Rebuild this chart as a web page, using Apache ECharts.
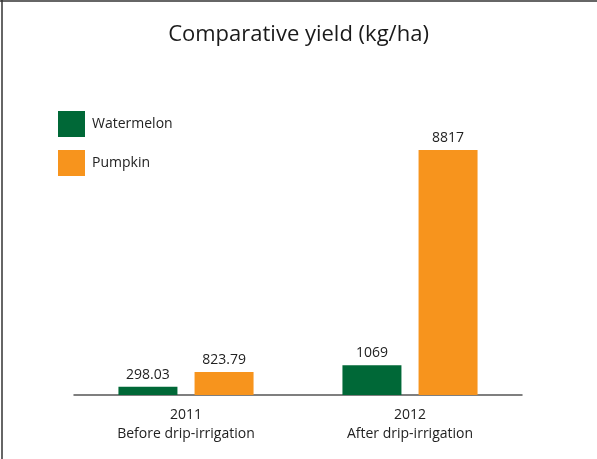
<!DOCTYPE html>
<html><head><meta charset="utf-8">
<script src="https://cdn.jsdelivr.net/npm/echarts@6/dist/echarts.min.js"></script>
<style>html,body{margin:0;padding:0;background:#fff}#c{width:597px;height:459px}</style>
</head><body><div id="c"></div>
<script>
const categories = ['2011\nBefore drip-irrigation', '2012\nAfter drip-irrigation'];
const watermelon = [298.03, 1069];
const pumpkin = [823.79, 8817];
const seriesNames = ['Watermelon', 'Pumpkin'];
const titleText = 'Comparative yield (kg/ha)';

const FONT = 'Open Sans';
const chart = echarts.init(document.getElementById('c'), null, {renderer: 'canvas'});
chart.setOption({
  backgroundColor: '#ffffff',
  animation: false,
  title: {
    text: titleText, left: 'center', top: 19,
    textStyle: {fontFamily: FONT, fontSize: 22, fontWeight: 'normal', color: '#1a1a1a'}
  },
  legend: {
    orient: 'vertical', left: 58, top: 111, padding: 0,
    itemWidth: 27, itemHeight: 26, itemGap: 13, icon: 'rect',
    textStyle: {fontFamily: FONT, fontSize: 14, color: '#222', padding: [0, 0, 0, 2]},
    data: seriesNames
  },
  grid: {left: 74, right: 75, top: 145, bottom: 64, containLabel: false},
  xAxis: {
    type: 'category', data: categories,
    axisLine: {lineStyle: {color: '#555', width: 1.5}},
    axisTick: {show: false},
    axisLabel: {fontFamily: FONT, fontSize: 14, color: '#222', lineHeight: 19, margin: 11}
  },
  yAxis: {type: 'value', min: 0, max: 9000, show: false, splitLine: {show: false}},
  series: [
    {name: seriesNames[0], type: 'bar', data: watermelon, barWidth: 59, barGap: '29%',
     itemStyle: {color: '#006837'},
     label: {show: true, position: 'top', distance: 5, fontFamily: FONT, fontSize: 14, color: '#222'}},
    {name: seriesNames[1], type: 'bar', data: pumpkin, barWidth: 59,
     itemStyle: {color: '#f7941d'},
     label: {show: true, position: 'top', distance: 5, fontFamily: FONT, fontSize: 14, color: '#222'}}
  ],
  graphic: [
    {type: 'line', shape: {x1: 0, y1: 1, x2: 597, y2: 1}, style: {stroke: '#333', lineWidth: 1.5}},
    {type: 'line', shape: {x1: 2, y1: 0, x2: 2, y2: 459}, style: {stroke: '#333', lineWidth: 1.5}}
  ]
});
</script></body></html>
